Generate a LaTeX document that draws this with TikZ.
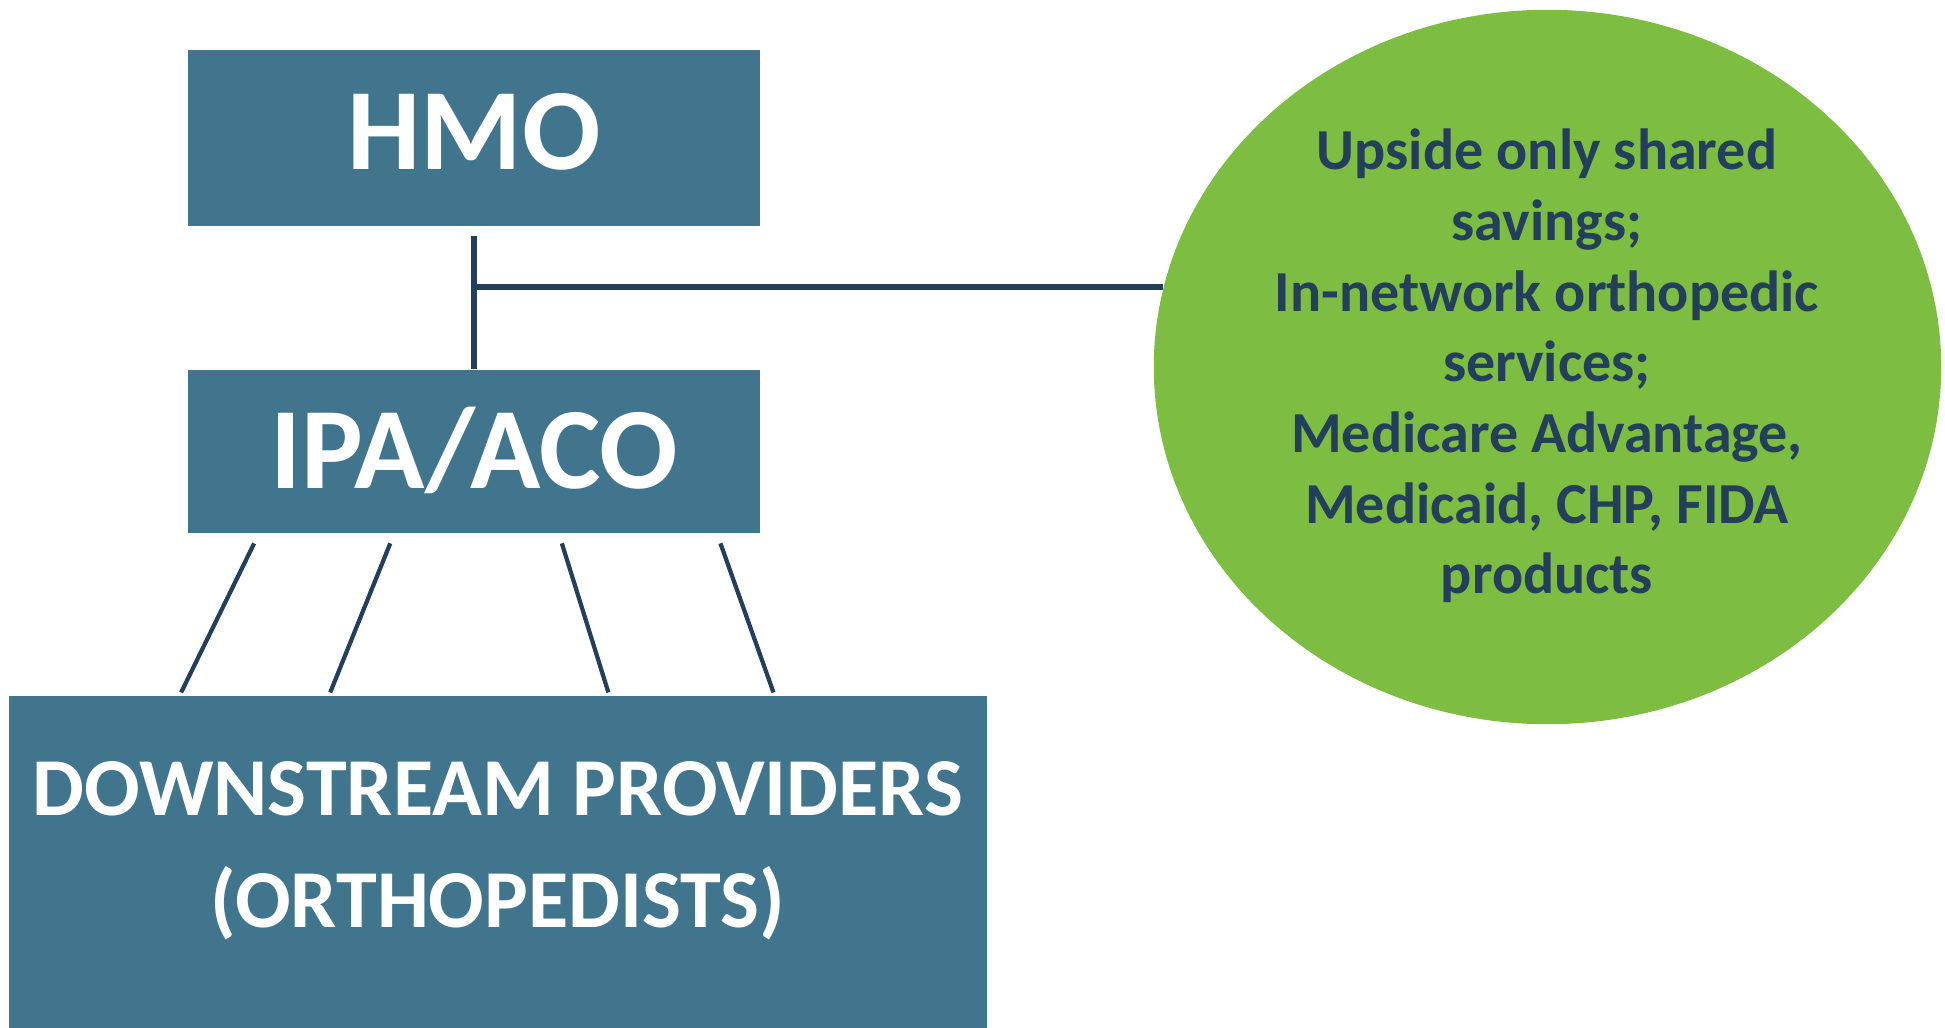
\documentclass[tikz,border=0pt]{standalone}
\usepackage{fontspec}
\setmainfont{Carlito}
\usetikzlibrary{positioning,shapes.geometric}
\definecolor{colCajaAzul}{HTML}{41758E}
\definecolor{colElipseVerde}{HTML}{7CBD42}
\definecolor{colTextoMarino}{HTML}{243F5B}

\begin{document}
\begin{tikzpicture}[x=0.01cm, y=-0.01cm, font=\bfseries,
    caja/.style={rectangle, fill=colCajaAzul, text=white, inner sep=0pt},
    enlace/.style={draw=colTextoMarino, line width=1.5pt},
    enlacefino/.style={draw=colTextoMarino, line width=1.2pt}]
    \useasboundingbox (0,0) rectangle (1945,1027);

    % Cajas
    \node[caja, minimum width=5.72cm, minimum height=1.76cm, text height=0.74cm, text depth=0.12cm,
        font=\fontsize{33}{39}\selectfont\bfseries] (hmo) at (474,138) {HMO};
    \node[caja, minimum width=5.72cm, minimum height=1.63cm, text height=0.74cm, text depth=0pt,
        font=\fontsize{33}{39}\selectfont\bfseries, below=1.42cm of hmo] (ipa) {IPA/ACO};
    \node[caja, minimum width=9.78cm, minimum height=3.4cm, below=1.62cm of ipa, xshift=0.24cm] (prov) {};
    \node[text=white, align=center, font=\fontsize{23.4}{31.8}\selectfont\bfseries] (provtexto) at (498,851)
        {DOWNSTREAM PROVIDERS\\(ORTHOPEDISTS)};

    % Elipse
    \node[ellipse, fill=colElipseVerde, minimum width=7.87cm, minimum height=7.14cm, inner sep=0pt] (ahorro) at (1547.5,367) {};
    \node[text=colTextoMarino, align=center, font=\fontsize{16.5}{20.1}\selectfont\bfseries] (ahorrotexto) at (1547,366)
        {Upside only shared\\savings;\\In-network orthopedic\\services;\\Medicare Advantage,\\Medicaid, CHP, FIDA\\products};

    % Conectores
    \draw[enlace] ([yshift=-0.09cm]hmo.south) -- (ipa.north);
    \coordinate (cruce) at (474,287);
    \draw[enlace] (cruce) -- (cruce -| ahorro.168);
    \foreach \a/\b in {0.67/1.73, 2.03/3.22, 3.745/6.00, 5.33/7.65}
        \draw[enlacefino] ([xshift=\a cm, yshift=-1mm]ipa.south west) -- ([xshift=\b cm, yshift=0.3mm]prov.north west);
\end{tikzpicture}
\end{document}
